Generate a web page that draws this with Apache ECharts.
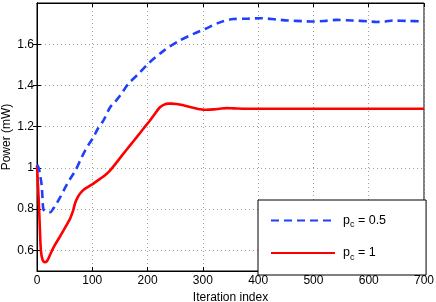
<!DOCTYPE html>
<html><head><meta charset="utf-8">
<script src="https://cdn.jsdelivr.net/npm/echarts@6/dist/echarts.min.js"></script>
<style>html,body{margin:0;padding:0;background:#fff}#c{width:436px;height:302px}</style>
</head><body><div id="c"></div>
<script>
var xTicks = [0, 100, 200, 300, 400, 500, 600, 700];
var yTicks = [0.6, 0.8, 1.0, 1.2, 1.4, 1.6];

var blueX = [0,3,6,8.5,10,11.5,15,20,24,30,36,42,50,60,70,78,87,95,102,110,120,132,141,150,165,185,204,230,258,283,304,331,355,382,406,433,454,480,500,520,542,570,600,614,630,644,670,700];
var blueY = [1.015,1.0,0.96,0.914,0.85,0.80,0.79,0.785,0.785,0.805,0.83,0.858,0.9,0.947,0.99,1.035,1.084,1.12,1.148,1.19,1.229,1.293,1.32,1.35,1.407,1.46,1.513,1.57,1.618,1.65,1.674,1.706,1.722,1.724,1.726,1.72,1.715,1.712,1.71,1.713,1.718,1.715,1.711,1.708,1.71,1.715,1.713,1.711];

var redX = [0,3,5,7,10,14,18,23,30,40,48,55,60,65,69,74,78,85,96,105,114,123,132,144,156,168,180,192,204,213,222,230,237,244,252,260,270,283,295,307,320,333,343,355,379,420,500,600,700];
var redY = [1.01,0.85,0.72,0.6,0.555,0.543,0.548,0.575,0.615,0.66,0.697,0.73,0.755,0.79,0.83,0.86,0.876,0.895,0.914,0.93,0.947,0.965,0.987,1.027,1.068,1.108,1.148,1.189,1.229,1.262,1.293,1.307,1.312,1.312,1.31,1.306,1.30,1.292,1.285,1.282,1.284,1.288,1.29,1.289,1.287,1.287,1.287,1.287,1.287];

function zip(a, b) { return a.map(function (v, i) { return [v, b[i]]; }); }

var font = 'Liberation Sans, Arial, Helvetica, sans-serif';
var chart = echarts.init(document.getElementById('c'), null, {renderer: 'canvas'});
var gridLine = {show: true, lineStyle: {color: '#a0a0a0', type: [1, 3], width: 1}};
chart.setOption({
  animation: false,
  textStyle: {fontFamily: font},
  grid: {left: 37, right: 12, top: 3, bottom: 31, show: true, borderColor: '#000', borderWidth: 1,
    containLabel: false, outerBoundsMode: 'none'},
  legend: {
    orient: 'vertical', left: 258, top: 200,
    backgroundColor: '#fff', borderColor: '#000', borderWidth: 1,
    padding: [14, 40, 13, 12], itemGap: 17, itemWidth: 64, itemHeight: 14,
    data: ['b', 'r'],
    itemStyle: {opacity: 0},
    formatter: function (n) { return n === 'b' ? '{q|p}{s|c}{p| = 0.5}' : '{q|p}{s|c}{p| = 1}'; },
    textStyle: {fontFamily: font, color: '#000', rich: {
      q: {fontSize: 12.5, fontFamily: font, color: '#000', lineHeight: 18, verticalAlign: 'middle', padding: [0, 0, 0, 3]},
      p: {fontSize: 12.5, fontFamily: font, color: '#000', lineHeight: 18, verticalAlign: 'middle'},
      s: {fontSize: 9, fontFamily: font, color: '#000', lineHeight: 18, verticalAlign: 'bottom'}
    }}
  },
  xAxis: [{
    type: 'value', min: 0, max: 700, interval: 100,
    name: 'Iteration index', nameLocation: 'middle', nameGap: 20,
    nameTextStyle: {fontSize: 12, color: '#000', fontFamily: font},
    axisLine: {show: true, lineStyle: {color: '#000'}},
    axisTick: {show: true, inside: true, length: 4, lineStyle: {color: '#000'}},
    axisLabel: {fontSize: 12, color: '#000', margin: 4, fontFamily: font},
    splitLine: gridLine
  }, {
    type: 'value', min: 0, max: 700, interval: 100, position: 'top',
    axisLine: {show: true, lineStyle: {color: '#000'}},
    axisTick: {show: true, inside: true, length: 4, lineStyle: {color: '#000'}},
    axisLabel: {show: false}, splitLine: {show: false}
  }],
  yAxis: [{
    type: 'value', min: 0.5, max: 1.8,
    name: 'Power (mW)', nameLocation: 'middle', nameGap: 24, nameMoveOverlap: false,
    nameTextStyle: {fontSize: 12, color: '#000', fontFamily: font},
    axisLine: {show: true, lineStyle: {color: '#000'}},
    axisTick: {show: true, inside: true, length: 4, lineStyle: {color: '#000'}, customValues: yTicks},
    axisLabel: {fontSize: 12, color: '#000', margin: 3, fontFamily: font, customValues: yTicks,
      formatter: function (v) { return String(Math.round(v * 10) / 10); }},
    splitLine: gridLine
  }, {
    type: 'value', min: 0.5, max: 1.8, position: 'right',
    axisLine: {show: true, lineStyle: {color: '#000'}},
    axisTick: {show: true, inside: true, length: 4, lineStyle: {color: '#000'}, customValues: yTicks},
    axisLabel: {show: false, customValues: yTicks}, splitLine: {show: false}
  }],
  series: [{
    name: 'b', type: 'line', data: zip(blueX, blueY), showSymbol: false, symbol: 'none', smooth: 0.3,
    lineStyle: {color: '#1f3fff', width: 2.6, type: [8, 5]}, itemStyle: {color: '#1f3fff'}, z: 3
  }, {
    name: 'r', type: 'line', data: zip(redX, redY), showSymbol: false, symbol: 'none', smooth: 0.3,
    lineStyle: {color: '#ff0000', width: 2.6}, itemStyle: {color: '#ff0000'}, z: 2
  }]
});
</script></body></html>
